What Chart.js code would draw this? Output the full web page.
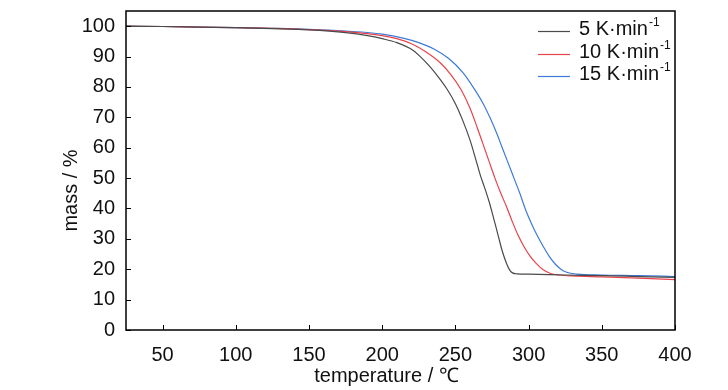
<!DOCTYPE html>
<html>
<head>
<meta charset="utf-8">
<script src="https://cdn.jsdelivr.net/npm/chart.js@4.4.1/dist/chart.umd.min.js"></script>
<style>
    html, body { margin: 0; padding: 0; background: #fff; }
    #wrap { width: 728px; height: 390px; }
</style>
</head>
<body>
<div id="wrap"><canvas id="tga-chart" width="728" height="390"></canvas></div>
<script>
// tick labels
var xTicks = [50, 100, 150, 200, 250, 300, 350, 400];
var yTicks = [0, 10, 20, 30, 40, 50, 60, 70, 80, 90, 100];

// 5 K/min
var temp5 = [25, 50, 75, 100, 125, 150, 175, 190, 200, 210, 220, 226, 232, 238, 244, 250, 255, 260, 264, 267, 270, 273, 276, 279, 282, 285, 287, 289, 292, 300, 325, 350, 375, 400];
var mass5 = [100, 99.9, 99.7, 99.5, 99.2, 98.8, 97.9, 96.9, 95.9, 94.6, 92.4, 90, 87, 83.5, 79.5, 74.5, 69, 62.5, 56, 51, 46.8, 42.3, 37, 31.5, 26, 21.8, 19.8, 18.8, 18.5, 18.4, 18.1, 17.9, 17.6, 17.3];

// 10 K/min
var temp10 = [25, 50, 75, 100, 125, 150, 175, 200, 210, 220, 230, 240, 247, 254, 260, 265, 269, 273, 277, 281, 285, 289, 293, 297, 301, 305, 310, 315, 321, 330, 350, 375, 400];
var mass10 = [100, 99.9, 99.7, 99.5, 99.3, 98.9, 98.2, 96.9, 95.9, 94.2, 91.5, 87.8, 84, 79, 73, 66.5, 61, 55.5, 50, 45, 40.5, 35.5, 31, 27.3, 24.3, 22, 19.8, 18.6, 18.1, 17.8, 17.5, 17.1, 16.6];

// 15 K/min
var temp15 = [25, 50, 75, 100, 125, 150, 175, 200, 215, 225, 235, 245, 255, 263, 269, 274, 278, 282, 286, 290, 294, 298, 302, 306, 310, 314, 318, 322, 326, 333, 350, 375, 400];
var mass15 = [100, 99.9, 99.7, 99.5, 99.3, 99.0, 98.4, 97.4, 96, 94.6, 92.6, 89.5, 84.8, 79.3, 74.5, 69.5, 65, 60, 55, 50, 45, 39.5, 35, 31, 27.5, 24.3, 21.8, 20, 19, 18.4, 18.1, 17.9, 17.6];

var seriesNames = ['5', '10', '15'];
var seriesColors = ['#4a4a4a', '#e8434c', '#3d7bd6'];

var FONT = '"Liberation Sans", Arial, sans-serif';

function toPoints(xs, ys) {
    return xs.map(function (x, i) { return { x: x, y: ys[i] }; });
}

function fixedTicks(values) {
    return function (scale) {
        scale.ticks = values.map(function (v) { return { value: v }; });
    };
}

// frame, inward tick marks, axis titles and the legend with superscripts
var decorPlugin = {
    id: 'decor',
    afterDraw: function (chart) {
        var ctx = chart.ctx;
        var area = chart.chartArea;
        var xs = chart.scales.x;
        var ys = chart.scales.y;
        var left = Math.round(area.left), right = Math.round(area.right);
        var top = Math.round(area.top), bottom = Math.round(area.bottom);
        ctx.save();

        ctx.strokeStyle = '#000';
        ctx.lineWidth = 1.5;
        ctx.beginPath();
        ctx.moveTo(left, top);
        ctx.lineTo(right, top);
        ctx.lineTo(right, bottom);
        ctx.lineTo(left, bottom);
        ctx.closePath();
        ctx.stroke();

        ctx.lineWidth = 1;
        ctx.beginPath();
        xTicks.forEach(function (v) {
            var px = Math.round(xs.getPixelForValue(v)) + 0.5;
            ctx.moveTo(px, bottom);
            ctx.lineTo(px, bottom - 5);
        });
        yTicks.forEach(function (v) {
            var py = Math.round(ys.getPixelForValue(v)) + 0.5;
            ctx.moveTo(left, py);
            ctx.lineTo(left + 5, py);
        });
        ctx.stroke();

        ctx.fillStyle = '#111';
        ctx.font = '20px ' + FONT;
        ctx.textAlign = 'center';
        ctx.textBaseline = 'middle';
        ctx.fillText('temperature / \u2103', (left + right) / 2 - 14, bottom + 46);

        ctx.save();
        ctx.translate(left - 55, (top + bottom) / 2 + 20);
        ctx.rotate(-Math.PI / 2);
        ctx.fillText('mass / %', 0, 0);
        ctx.restore();

        ctx.textAlign = 'left';
        ctx.textBaseline = 'alphabetic';
        seriesNames.forEach(function (name, i) {
            var rowY = top + 20 + Math.round(i * 22.5);
            var lineX = right - 137;
            ctx.strokeStyle = seriesColors[i];
            ctx.lineWidth = 1.2;
            ctx.beginPath();
            ctx.moveTo(lineX, rowY + 0.5);
            ctx.lineTo(lineX + 32, rowY + 0.5);
            ctx.stroke();

            var textX = lineX + 41;
            var main = name + ' K\u00b7min';
            ctx.font = '20px ' + FONT;
            ctx.fillText(main, textX, rowY + 4);
            var w = ctx.measureText(main).width;
            ctx.font = '12px ' + FONT;
            ctx.fillText('-1', textX + w + 1, rowY - 5);
        });

        ctx.restore();
    }
};

var datasets = [
    toPoints(temp5, mass5),
    toPoints(temp10, mass10),
    toPoints(temp15, mass15)
].map(function (pts, i) {
    return {
        label: seriesNames[i] + ' K\u00b7min-1',
        data: pts,
        borderColor: seriesColors[i],
        borderWidth: 1.2,
        pointRadius: 0,
        fill: false,
        cubicInterpolationMode: 'monotone'
    };
});

new Chart(document.getElementById('tga-chart').getContext('2d'), {
    type: 'line',
    data: { datasets: datasets },
    options: {
        responsive: false,
        animation: false,
        layout: { padding: { top: 11, right: 53, left: 0, bottom: 0 } },
        plugins: {
            legend: { display: false },
            tooltip: { enabled: false }
        },
        scales: {
            x: {
                type: 'linear',
                min: 25,
                max: 400,
                afterBuildTicks: fixedTicks(xTicks),
                afterFit: function (scale) {
                    scale.height = 60;
                    scale.paddingLeft = 0;
                    scale.paddingRight = 0;
                },
                grid: { display: false },
                border: { display: false },
                ticks: {
                    color: '#111',
                    padding: 5,
                    maxRotation: 0,
                    font: { family: FONT, size: 20 }
                }
            },
            y: {
                type: 'linear',
                min: 0,
                max: 105,
                afterBuildTicks: fixedTicks(yTicks),
                afterFit: function (scale) {
                    scale.width = 126;
                    scale.paddingTop = 0;
                    scale.paddingBottom = 0;
                },
                grid: { display: false },
                border: { display: false },
                ticks: {
                    color: '#111',
                    padding: 3,
                    font: { family: FONT, size: 20 }
                }
            }
        }
    },
    plugins: [decorPlugin]
});
</script>
</body>
</html>
